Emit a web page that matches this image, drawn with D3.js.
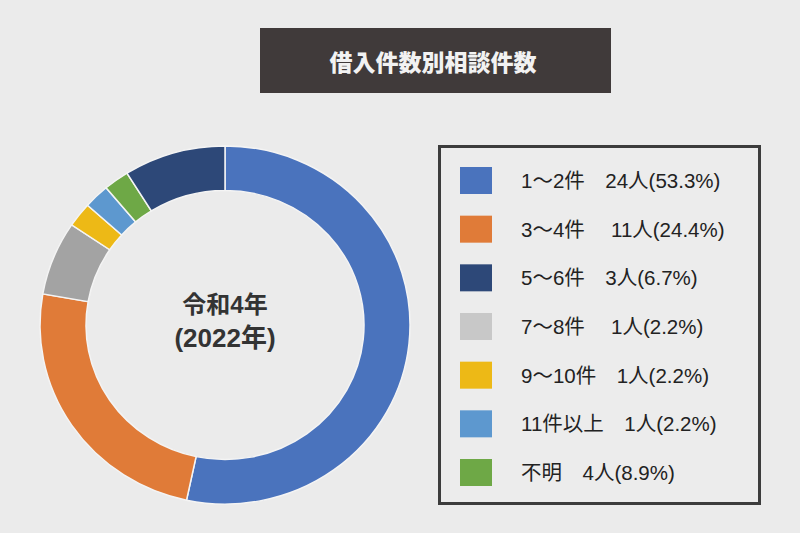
<!DOCTYPE html>
<html><head><meta charset="utf-8">
<script src="https://cdn.jsdelivr.net/npm/d3@7/dist/d3.min.js"></script>
<style>
html,body{margin:0;padding:0;background:#ebebeb;}
svg{display:block;}
</style></head>
<body>
<script>
// Data
const title = "借入件数別相談件数";
const centerLines = ["令和4年", "(2022年)"];
// donut slices in drawing order (clockwise from top), as shown in the picture
const sliceValues = [24, 11, 3, 1, 1, 1, 4];
const sliceColors = ["#4a73bd", "#e07b38", "#a3a3a3", "#edb916", "#5d98cf", "#6ea846", "#2d4878"];
// legend entries
const legendLabels = ["1〜2件　24人(53.3%)", "3〜4件　 11人(24.4%)", "5〜6件　3人(6.7%)", "7〜8件　 1人(2.2%)", "9〜10件　1人(2.2%)", "11件以上　1人(2.2%)", "不明　4人(8.9%)"];
const legendColors = ["#4a73bd", "#e07b38", "#2d4878", "#c8c8c8", "#edb916", "#5d98cf", "#6ea846"];

const W = 800, H = 533;
const FONT = "'Liberation Sans', 'Noto Sans CJK JP', sans-serif";
const svg = d3.select("body").append("svg").attr("width", W).attr("height", H);
svg.append("rect").attr("width", W).attr("height", H).attr("fill", "#ebebeb");

// Title box
svg.append("rect").attr("x", 260).attr("y", 28).attr("width", 351).attr("height", 65).attr("fill", "#403a3a");
svg.append("text").attr("x", 433).attr("y", 61).attr("text-anchor", "middle").attr("dominant-baseline", "central")
  .attr("font-family", "Noto Sans CJK JP").attr("font-weight", 900).attr("font-size", 23).attr("fill", "#f2f2f2")
  .text(title);

// Donut
const cx = 225, cy = 325, R = 185, r = 139;
const pie = d3.pie().sort(null).value(d => d);
const arc = d3.arc().innerRadius(r).outerRadius(R);
const g = svg.append("g").attr("transform", `translate(${cx},${cy}) scale(1,0.968)`);
g.selectAll("path").data(pie(sliceValues)).join("path")
  .attr("d", arc).attr("fill", (d, i) => sliceColors[i])
  .attr("stroke", "#f4f4f4").attr("stroke-width", 1.5);

svg.selectAll("text.center").data(centerLines).join("text").attr("class", "center")
  .attr("x", cx).attr("y", (d, i) => 304 + i * 34).attr("text-anchor", "middle").attr("dominant-baseline", "central")
  .attr("font-family", FONT).attr("font-weight", 700).attr("font-size", (d, i) => i === 0 ? 24 : 26).attr("fill", "#333")
  .text(d => d);

// Legend
svg.append("rect").attr("x", 439.5).attr("y", 146.5).attr("width", 320).attr("height", 357)
  .attr("fill", "#ececec").attr("stroke", "#3c3c3c").attr("stroke-width", 3);
const y = d3.scalePoint().domain(d3.range(legendLabels.length)).range([180.5, 472.5]);
const lg = svg.selectAll("g.leg").data(legendLabels).join("g").attr("class", "leg")
  .attr("transform", (d, i) => `translate(0,${y(i)})`);
lg.append("rect").attr("x", 460).attr("y", -13.5).attr("width", 32).attr("height", 27)
  .attr("fill", (d, i) => legendColors[i]);
lg.append("text").attr("x", 521).attr("y", 0).attr("dominant-baseline", "central")
  .attr("font-family", FONT).attr("font-weight", 400).attr("font-size", 20.5).attr("fill", "#222")
  .text(d => d);
</script>
</body></html>
